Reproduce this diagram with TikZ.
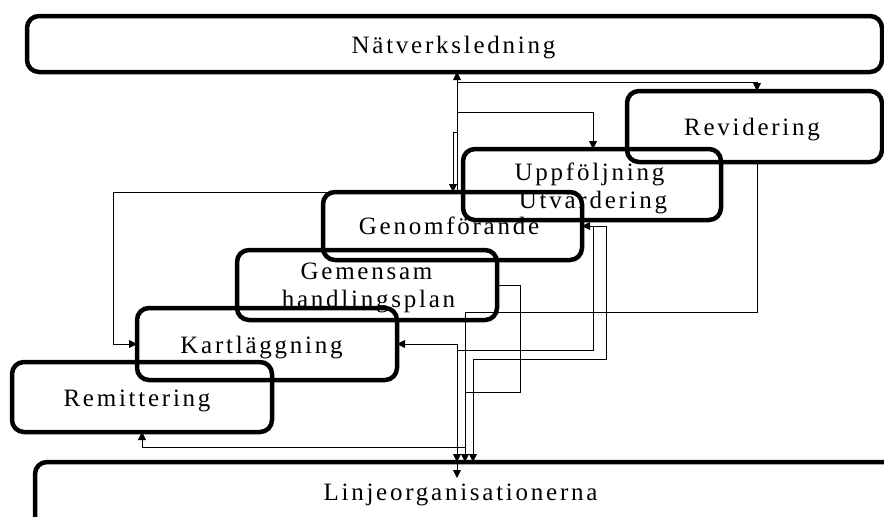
\documentclass[tikz,border=0pt]{standalone}
\usepackage{fontspec}
\setmainfont{Liberation Serif}[LetterSpace=11]
\usetikzlibrary{arrows.meta}
\begin{document}
\begin{tikzpicture}[x=1pt,y=-1pt,
  box/.style={draw, line width=4.5pt, rounded corners=12pt, inner sep=0pt, outer sep=0pt},
  lbl/.style={inner sep=0pt, anchor=base, font=\fontsize{25}{30}\selectfont},
  conn/.style={line width=0.9pt},
  arr/.style={conn, -{Triangle[length=8pt,width=8pt]}},
  arrs/.style={conn, {Triangle[length=8pt,width=8pt]}-{Triangle[length=8pt,width=8pt]}}]
\useasboundingbox (0,0) rectangle (884,517);
\clip (0,0) rectangle (884,517);

\node[box, minimum width=855pt, minimum height=56pt] (net) at (454.5,44) {};
\node[box, minimum width=255pt, minimum height=71pt] (rev) at (754.5,126.5) {};
\node[box, minimum width=258pt, minimum height=71pt] (upp) at (592,184.5) {};
\node[box, minimum width=259pt, minimum height=68pt] (gen) at (452.5,226) {};
\node[box, minimum width=260pt, minimum height=70pt] (gem) at (367,285) {};
\node[box, minimum width=260pt, minimum height=72pt] (kart) at (267,344) {};
\node[box, minimum width=260pt, minimum height=70pt] (rem) at (142,397) {};
\node[box, minimum width=870pt, minimum height=84pt] (lin) at (470,504) {};

\node[lbl] (netT) at (453.5,53) {Nätverksledning};
\node[lbl] (revT) at (752,135) {Revidering};
\node[lbl] (uppT1) at (589.5,180) {Uppföljning};
\node[lbl] (uppT2) at (593,208) {Utvärdering};
\node[lbl] (genT) at (449,234) {Genomförande};
\node[lbl] (gemT1) at (366.5,279) {Gemensam};
\node[lbl] (gemT2) at (368.5,307.5) {handlingsplan};
\node[lbl] (kartT) at (261.5,353) {Kartläggning};
\node[lbl] (remT) at (137,406) {Remittering};
\node[lbl] (linT) at (460.5,500) {Linjeorganisationerna};

\coordinate (cA) at (457,0);
\coordinate (cB) at (453,0);
\coordinate (cC) at (593,0);
\coordinate (cR) at (757,0);
\coordinate (cL) at (113,0);
\coordinate (c2) at (465,0);
\coordinate (c3) at (473,0);
\coordinate (j0) at (457,82);
\coordinate (j1) at (457,132);
\coordinate (j2) at (457,112);
\coordinate (r1) at (465,312);
\coordinate (g1) at (520,392);
\coordinate (e1) at (606,359);
\coordinate (d1) at (457,350);
\coordinate (r2) at (465,447);

\draw[arr] (gen.north -| cA) -- (net.south -| cA);
\draw[arr] (j0) -| (rev.north -| cR);
\draw[arr] (j2) -| (upp.north -| cC);
\draw[arr] (j1) -| (gen.north -| cB);
\draw[arr] (gen.north -| cB) -- (gen.north -| cL) |- (kart.west);
\draw[arr] (rev.south -| cR) |- (r1) -- (lin.north -| c2);
\draw[conn] (gem.east) -| (g1) -- (g1 -| c2);
\draw[arrs] (gen.east) -| (e1) -| (lin.north -| c3);
\draw[conn] (gen.east -| cC) |- (d1);
\draw[arrs] (kart.east) -| (lin.north -| cA);
\draw[arr] (lin.north -| cA) -- ++(0,16);
\draw[arr] (r2) -| (rem.south);
\end{tikzpicture}
\end{document}
